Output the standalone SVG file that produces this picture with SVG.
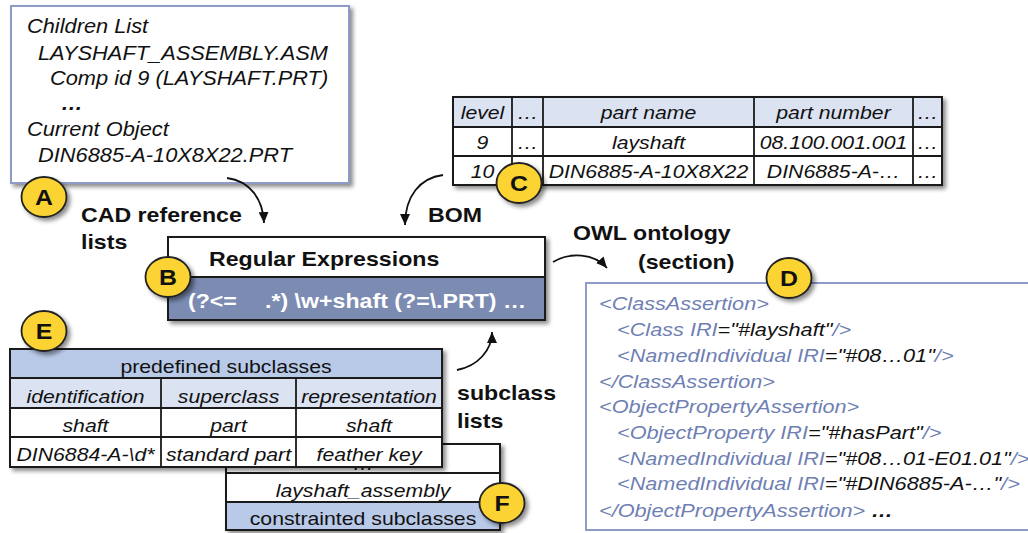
<svg xmlns="http://www.w3.org/2000/svg" width="1028" height="533" viewBox="0 0 1028 533">
<style>
text{font-family:"Liberation Sans",Arial,sans-serif;fill:#111}
.it{font-style:italic;font-size:19.3px}
.tb{font-style:italic;font-size:18.8px;text-anchor:middle}
.tr{font-size:18.8px;text-anchor:middle}
.lb{font-weight:bold;font-size:20.5px}
.ow{font-style:italic;font-size:19.2px;fill:#6f7fb3}
.ow .k{fill:#111}
.wt{font-weight:bold;font-size:20.5px;fill:#fff}
.bl{font-weight:bold;font-size:22px;text-anchor:middle}
.tbl{fill:#fff;stroke:#1a1a1a;stroke-width:2}
.ln{fill:none;stroke:#1a1a1a;stroke-width:1.8}
.hd{fill:#dbe2f2}
.md{fill:#b9c9e8}
.cir{fill:#fbd333;stroke:#222;stroke-width:1.8}
.con{fill:none;stroke:#111;stroke-width:1.8;marker-end:url(#ah)}
</style>
<defs>
<filter id="sh" x="-10%" y="-10%" width="130%" height="150%"><feDropShadow dx="3" dy="3" stdDeviation="2" flood-color="#000" flood-opacity="0.45"/></filter>
<marker id="ah" markerUnits="userSpaceOnUse" markerWidth="12" markerHeight="10" refX="11" refY="5" orient="auto"><path d="M0,0 L11,5 L0,10 z" fill="#111"/></marker>
</defs>
<rect width="1028" height="533" fill="#fff"/>

<g id="A-cad-list">
<rect x="11" y="6" width="338" height="177" fill="#fff" stroke="#8e9bc6" stroke-width="2" filter="url(#sh)"/>
<text class="it" transform="translate(27 33) scale(1.13 1)">Children List</text>
<text class="it" transform="translate(38 60) scale(1.13 1)">LAYSHAFT_ASSEMBLY.ASM</text>
<text class="it" transform="translate(50 85) scale(1.13 1)">Comp id 9 (LAYSHAFT.PRT)</text>
<text class="it" font-weight="bold" transform="translate(61 110) scale(1.13 1)">…</text>
<text class="it" transform="translate(27 136) scale(1.13 1)">Current Object</text>
<text class="it" transform="translate(38 162) scale(1.13 1)">DIN6885-A-10X8X22.PRT</text>
</g>

<g id="C-bom">
<rect class="tbl" x="453" y="97" width="489" height="88" filter="url(#sh)"/>
<rect class="hd" x="453" y="97" width="489" height="30"/>
<path class="ln" d="M453,127H942M453,156H942M512,97V185M543,97V185M754,97V185M913,97V185"/>
<rect x="453" y="97" width="489" height="88" fill="none" stroke="#1a1a1a" stroke-width="2"/>
<text class="tb" transform="translate(482.5 119) scale(1.13 1)">level</text>
<text class="tb" transform="translate(527.5 119) scale(1.13 1)">…</text>
<text class="tb" transform="translate(648.5 119) scale(1.13 1)">part name</text>
<text class="tb" transform="translate(833.5 119) scale(1.13 1)">part number</text>
<text class="tb" transform="translate(927.5 119) scale(1.13 1)">…</text>
<text class="tb" transform="translate(482.5 149) scale(1.13 1)">9</text>
<text class="tb" transform="translate(527.5 149) scale(1.13 1)">…</text>
<text class="tb" transform="translate(648.5 149) scale(1.13 1)">layshaft</text>
<text class="tb" transform="translate(833.5 149) scale(1.13 1)">08.100.001.001</text>
<text class="tb" transform="translate(927.5 149) scale(1.13 1)">…</text>
<text class="tb" transform="translate(482.5 178) scale(1.13 1)">10</text>
<text class="tb" transform="translate(648.5 178) scale(1.13 1)">DIN6885-A-10X8X22</text>
<text class="tb" transform="translate(833.5 178) scale(1.13 1)">DIN6885-A-…</text>
<text class="tb" transform="translate(927.5 178) scale(1.13 1)">…</text>
</g>

<g id="B-regex">
<rect class="tbl" x="168" y="237" width="377" height="83" filter="url(#sh)"/>
<rect x="168" y="277" width="377" height="43" fill="#7b8bb2"/>
<path class="ln" d="M168,277H545"/>
<rect x="168" y="237" width="377" height="83" fill="none" stroke="#1a1a1a" stroke-width="2"/>
<text class="lb" transform="translate(209 266) scale(1.13 1)">Regular Expressions</text>
<text class="wt" transform="translate(188 308) scale(1.13 1)">(?&lt;=</text>
<text class="wt" transform="translate(265 308) scale(1.13 1)">.*) \w+shaft (?=\.PRT) …</text>
</g>

<g id="D-owl">
<rect x="586" y="283" width="460" height="247" fill="#fff" stroke="#8e9bc6" stroke-width="2"/>
<text class="ow" transform="translate(599 310) scale(1.13 1)">&lt;ClassAssertion&gt;</text>
<text class="ow" transform="translate(617 336) scale(1.13 1)">&lt;Class IRI<tspan class="k">="#layshaft"</tspan>/&gt;</text>
<text class="ow" transform="translate(617 362) scale(1.13 1)">&lt;NamedIndividual IRI<tspan class="k">="#08…01"</tspan>/&gt;</text>
<text class="ow" transform="translate(599 388) scale(1.13 1)">&lt;/ClassAssertion&gt;</text>
<text class="ow" transform="translate(599 413) scale(1.13 1)">&lt;ObjectPropertyAssertion&gt;</text>
<text class="ow" transform="translate(617 439) scale(1.13 1)">&lt;ObjectProperty IRI<tspan class="k">="#hasPart"</tspan>/&gt;</text>
<text class="ow" transform="translate(617 465) scale(1.13 1)">&lt;NamedIndividual IRI<tspan class="k">="#08…01-E01.01"</tspan>/&gt;</text>
<text class="ow" transform="translate(617 490) scale(1.13 1)">&lt;NamedIndividual IRI<tspan class="k">="#DIN6885-A-…"</tspan>/&gt;</text>
<text class="ow" transform="translate(599 517) scale(1.13 1)">&lt;/ObjectPropertyAssertion&gt;<tspan class="k" font-weight="bold"> …</tspan></text>
</g>

<g id="F-constrained">
<rect class="tbl" x="226" y="444" width="274" height="86" filter="url(#sh)"/>
<rect class="md" x="226" y="502" width="274" height="28"/>
<path class="ln" d="M226,473H500M226,502H500"/>
<rect x="226" y="444" width="274" height="86" fill="none" stroke="#1a1a1a" stroke-width="2"/>
<text class="tb" font-size="14" transform="translate(363 469.5) scale(1.13 1)">…</text>
<text class="tb" transform="translate(363 497) scale(1.13 1)">layshaft_assembly</text>
<text class="tr" transform="translate(363 525) scale(1.13 1)">constrainted subclasses</text>
</g>

<g id="E-predefined">
<rect class="tbl" x="10" y="349" width="432" height="118" filter="url(#sh)"/>
<rect class="md" x="10" y="349" width="432" height="29"/>
<rect class="hd" x="10" y="378" width="432" height="30"/>
<path class="ln" d="M10,378H442M10,408H442M10,437H442M161,378V467M296,378V467"/>
<rect x="10" y="349" width="432" height="118" fill="none" stroke="#1a1a1a" stroke-width="2"/>
<text class="tr" transform="translate(226 373) scale(1.13 1)">predefined subclasses</text>
<text class="tb" transform="translate(85.5 403) scale(1.13 1)">identification</text>
<text class="tb" transform="translate(228.5 403) scale(1.13 1)">superclass</text>
<text class="tb" transform="translate(369 403) scale(1.13 1)">representation</text>
<text class="tb" transform="translate(85.5 432) scale(1.13 1)">shaft</text>
<text class="tb" transform="translate(228.5 432) scale(1.13 1)">part</text>
<text class="tb" transform="translate(369 432) scale(1.13 1)">shaft</text>
<text class="tb" transform="translate(85.5 461) scale(1.13 1)">DIN6884-A-\d*</text>
<text class="tb" transform="translate(228.5 461) scale(1.13 1)">standard part</text>
<text class="tb" transform="translate(369 461) scale(1.13 1)">feather key</text>
</g>

<g id="connectors">
<path class="con" d="M227,178 C250,181 263,199 264,223"/>
<path class="con" d="M443,175 C420,178 405,196 405,225"/>
<path class="con" d="M553,262 C570,252 594,253 607,268"/>
<path class="con" d="M457,370 C478,366 492,350 492,332"/>
</g>

<g id="labels">
<text class="lb" transform="translate(81 222) scale(1.13 1)">CAD reference</text>
<text class="lb" transform="translate(81 249) scale(1.13 1)">lists</text>
<text class="lb" transform="translate(428 222) scale(1.13 1)">BOM</text>
<text class="lb" transform="translate(573 240) scale(1.13 1)">OWL ontology</text>
<text class="lb" transform="translate(638 269) scale(1.13 1)">(section)</text>
<text class="lb" transform="translate(457 400) scale(1.13 1)">subclass</text>
<text class="lb" transform="translate(457 428) scale(1.13 1)">lists</text>
</g>

<g id="badges">
<g id="badge-A"><ellipse class="cir" cx="44" cy="197" rx="22.5" ry="20" filter="url(#sh)"/><text class="bl" transform="translate(44 205) scale(1.13 1)">A</text></g>
<g id="badge-B"><ellipse class="cir" cx="168" cy="277" rx="22.5" ry="20" filter="url(#sh)"/><text class="bl" transform="translate(168 285) scale(1.13 1)">B</text></g>
<g id="badge-C"><ellipse class="cir" cx="519" cy="183" rx="22.5" ry="20" filter="url(#sh)"/><text class="bl" transform="translate(519 191) scale(1.13 1)">C</text></g>
<g id="badge-D"><ellipse class="cir" cx="789" cy="278" rx="22.5" ry="20" filter="url(#sh)"/><text class="bl" transform="translate(789 286) scale(1.13 1)">D</text></g>
<g id="badge-E"><ellipse class="cir" cx="44" cy="331" rx="22.5" ry="20" filter="url(#sh)"/><text class="bl" transform="translate(44 339) scale(1.13 1)">E</text></g>
<g id="badge-F"><ellipse class="cir" cx="502" cy="503" rx="22.5" ry="20" filter="url(#sh)"/><text class="bl" transform="translate(502 511) scale(1.13 1)">F</text></g>
</g>
</svg>
